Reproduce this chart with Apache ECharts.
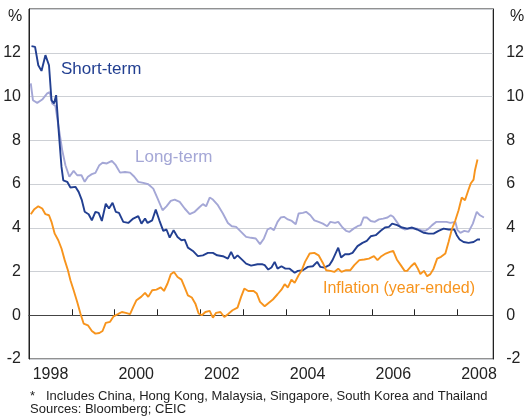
<!DOCTYPE html>
<html>
<head>
<meta charset="utf-8">
<script src="https://cdn.jsdelivr.net/npm/echarts@6/dist/echarts.min.js"></script>
<style>
html,body{margin:0;padding:0;background:#fff;}
#chart{width:527px;height:417px;}
</style>
</head>
<body>
<div id="chart"></div>
<script>
// Months counted from January 1998, and values in per cent
var startYear = 1998;
var shortTerm = [[0.7,12.3],[1.7,12.27],[2.6,11.43],[3.5,11.17],[4.6,11.89],[5.6,11.43],[6.3,9.83],[7.0,9.68],[7.6,10.06],[8.3,8.46],[9.1,6.78],[9.6,6.17],[10.7,6.1],[11.6,5.84],[13,5.87],[13.9,5.64],[14.8,5.26],[15.6,4.73],[16.7,4.62],[17.6,4.34],[18.6,4.73],[19.5,4.68],[20.4,4.31],[21.5,5.1],[22.4,4.88],[23.4,5.14],[24.3,4.73],[25.2,4.68],[26.4,4.27],[27.8,4.22],[29.2,4.42],[30.6,4.53],[31.5,4.19],[32.5,4.42],[33.2,4.22],[34.5,4.34],[35.5,4.83],[36.5,4.34],[37.6,3.86],[38.5,3.92],[39.4,3.55],[40.5,3.89],[41.6,3.58],[42.7,3.43],[43.6,3.46],[44.5,3.09],[45.9,2.94],[47.3,2.70],[48.7,2.74],[50.1,2.85],[51.5,2.85],[52.7,2.74],[54.3,2.70],[55.7,2.59],[56.6,2.90],[57.5,2.59],[58.4,2.74],[59.8,2.52],[60.8,2.36],[62.2,2.27],[64,2.33],[65.4,2.33],[66,2.29],[67,2.09],[67.9,2.18],[68.8,2.44],[69.6,2.13],[70.7,2.24],[71.8,2.13],[73,2.13],[74.4,1.94],[75.3,2.03],[76.7,2.06],[78.1,2.21],[79.5,2.24],[80.7,2.44],[81.6,2.21],[82.7,2.18],[84.1,2.29],[85,2.52],[86.6,3.09],[87.4,2.64],[88.5,2.79],[89.7,2.79],[90.6,2.85],[92,3.16],[93.4,3.31],[94.6,3.40],[95.7,3.61],[97.1,3.66],[98.5,3.86],[99.7,4.01],[100.8,4.04],[101.7,4.19],[103.1,4.12],[104.5,4.01],[105.9,3.96],[107.3,4.01],[108.7,3.92],[110.6,3.77],[111.9,3.73],[113.3,3.73],[114.7,3.86],[116.1,3.96],[117.5,3.92],[119.1,3.92],[119.8,3.66],[120.6,3.46],[121.7,3.35],[123.1,3.31],[124.5,3.35],[125.6,3.46],[126.3,3.46]];
var longTerm = [[0.5,10.6],[1.1,9.83],[2.3,9.71],[3.7,9.86],[5.1,10.14],[5.8,10.2],[6.5,9.68],[7.4,9.56],[8.3,8.6],[9.3,7.55],[10.2,6.86],[11.3,6.33],[12.5,6.6],[13.5,6.4],[14.7,6.4],[15.6,6.1],[16.5,6.33],[17.6,6.45],[18.6,6.51],[19.7,6.86],[20.6,6.97],[21.8,6.94],[23.2,7.06],[24.3,6.86],[25.5,6.52],[26.9,6.55],[28.3,6.52],[29.5,6.33],[30.6,6.10],[32,6.05],[33.4,5.99],[34.8,5.79],[36,5.34],[37.4,4.80],[38.5,4.98],[39.7,5.23],[40.8,5.29],[42.2,5.18],[43.6,4.88],[45,4.62],[46.4,4.73],[47.8,4.95],[48.7,5.08],[49.6,4.98],[50.6,5.38],[51.5,5.29],[52.9,5.03],[54.3,4.65],[55.7,4.22],[56.8,4.07],[58,4.04],[59.4,3.81],[60.8,3.58],[62.2,3.54],[63.5,3.51],[64.7,3.25],[65.8,3.51],[66.8,3.92],[67.7,3.99],[68.6,3.89],[69.6,4.27],[70.5,4.47],[71.4,4.50],[72.5,4.38],[73.6,4.31],[74.7,4.16],[75.5,4.65],[76.7,4.68],[77.6,4.73],[78.8,4.57],[79.9,4.34],[81.1,4.27],[82.3,4.19],[83.5,4.07],[84.4,4.27],[85.7,4.22],[86.6,4.27],[87.8,4.01],[88.8,3.86],[89.7,3.81],[90.9,3.96],[92,4.07],[92.9,4.12],[93.7,4.47],[94.6,4.47],[95.7,4.31],[96.8,4.27],[98,4.38],[99.2,4.42],[100.4,4.47],[101.3,4.57],[102,4.50],[103,4.27],[104.1,4.01],[105.2,3.92],[106.4,3.96],[107.6,3.96],[108.7,3.96],[109.8,3.89],[111,3.86],[111.9,3.96],[112.9,4.12],[114.1,4.27],[115.4,4.27],[116.9,4.27],[118,4.22],[119.4,4.27],[120,3.89],[120.8,3.77],[121.9,3.86],[123.1,3.81],[124.3,4.19],[125.4,4.73],[126.3,4.57],[127.4,4.47]];
var inflation = [[0.5,4.62],[1.4,4.83],[2.6,4.98],[3.7,4.88],[4.6,4.62],[5.6,4.57],[6.3,4.27],[7.2,3.73],[8.2,3.43],[9.1,3.05],[10,2.52],[10.9,2.06],[11.6,1.60],[12.5,1.14],[13.5,0.61],[14.4,0.08],[15.3,-0.38],[16.5,-0.46],[17.6,-0.72],[18.6,-0.84],[19.7,-0.81],[20.6,-0.72],[21.5,-0.35],[22.7,-0.30],[23.7,-0.05],[24.9,0.05],[26,0.15],[27.1,0.11],[28.3,0.05],[29.2,0.38],[30.1,0.69],[31.4,0.84],[32.5,1.02],[33.4,0.84],[34.5,1.14],[35.7,1.17],[36.9,1.27],[37.8,1.11],[38.8,1.45],[39.7,1.87],[40.6,1.98],[41.6,1.75],[42.7,1.63],[43.6,1.27],[44.5,0.91],[45.6,0.81],[46.6,0.53],[47.5,0.08],[48.4,0.0],[49.4,0.15],[50.6,0.2],[51.5,-0.11],[52.4,0.11],[53.6,0.15],[54.7,-0.08],[55.7,0.05],[57,0.23],[58.4,0.35],[59.4,0.84],[60.3,1.22],[61.4,1.11],[62.9,1.11],[63.8,0.99],[64.7,0.61],[66,0.41],[67.1,0.56],[68.3,0.72],[69.6,0.96],[70.7,1.17],[71.6,1.42],[72.5,1.27],[73.5,1.63],[74.4,1.48],[75.5,1.83],[76.4,2.06],[77.3,2.44],[78.6,2.82],[79.9,2.85],[81.1,2.74],[82.3,2.39],[83.2,2.06],[84.4,2.03],[85.5,1.98],[86.6,2.13],[87.5,1.98],[88.8,2.06],[90,2.06],[91.1,2.29],[92.5,2.52],[93.9,2.55],[95.2,2.59],[96.6,2.70],[97.6,2.52],[98.7,2.70],[99.9,2.82],[101.1,2.90],[102,2.94],[103,2.55],[104.1,2.29],[105.2,2.03],[105.9,2.03],[107,2.24],[108,2.39],[108.9,2.13],[109.6,1.88],[110.6,2.03],[111.5,1.78],[112.4,1.88],[113.3,2.13],[114.3,2.59],[115.4,2.67],[116.6,2.82],[117.5,3.35],[118.4,3.92],[119.4,4.34],[120.3,4.80],[121.2,5.38],[122.1,5.26],[123.1,5.75],[123.7,6.02],[124.5,6.20],[124.9,6.63],[125.6,7.12]];
var yearLabels = ['1998','2000','2002','2004','2006','2008'];
var yTicks = [-2, 0, 2, 4, 6, 8, 10, 12];
var xMin = 1998, xMax = 1998 + 130 / 12;
var yMin = -2, yMax = 14;

function toYears(arr) {
  return arr.map(function (p) { return [startYear + p[0] / 12, p[1]]; });
}

var FONT = 'Liberation Sans, Arial, sans-serif';
var TXT = '#222';
var chart = echarts.init(document.getElementById('chart'), null, {renderer: 'canvas'});

var yLabelFmt = function (v) { return yTicks.indexOf(v) >= 0 ? String(v) : ''; };

chart.setOption({
  animation: false,
  backgroundColor: '#fff',
  grid: {left: 29, right: 30, top: 9, bottom: 58, show: true, borderColor: '#222', borderWidth: 1, containLabel: false},
  xAxis: {
    type: 'value', min: xMin, max: xMax, interval: 1,
    axisLine: {show: true, lineStyle: {color: '#222', width: 1}},
    axisTick: {show: true, inside: true, length: 6, lineStyle: {color: '#222'}},
    splitLine: {show: false},
    axisLabel: {
      show: true, margin: 8, color: TXT, fontFamily: FONT, fontSize: 16,
      padding: [0, 0, 0, 43],
      formatter: function (v) {
        var y = Math.round(v);
        return yearLabels.indexOf(String(y)) >= 0 ? String(y) : '';
      },
      showMaxLabel: false
    }
  },
  yAxis: [{
    type: 'value', min: yMin, max: yMax, interval: 2, position: 'left',
    axisLine: {show: true, lineStyle: {color: '#222'}},
    axisTick: {show: false},
    splitLine: {show: true, lineStyle: {color: '#cdd0d5', width: 1.2}},
    axisLabel: {margin: 8, color: TXT, fontFamily: FONT, fontSize: 16, formatter: yLabelFmt}
  }, {
    type: 'value', min: yMin, max: yMax, interval: 2, position: 'right',
    axisLine: {show: true, lineStyle: {color: '#222'}},
    axisTick: {show: false},
    splitLine: {show: false},
    axisLabel: {margin: 13, color: TXT, fontFamily: FONT, fontSize: 16, formatter: yLabelFmt}
  }],
  series: [{
    name: 'Long-term', type: 'line', data: toYears(longTerm), showSymbol: false,
    lineStyle: {color: '#a4a7d6', width: 1.9}, z: 3,
    markLine: {
      silent: true, symbol: 'none', label: {show: false},
      lineStyle: {color: '#444', width: 1.2, type: 'solid'},
      data: [{yAxis: 0}]
    }
  }, {
    name: 'Short-term', type: 'line', data: toYears(shortTerm), showSymbol: false,
    lineStyle: {color: '#223f91', width: 1.9}, z: 4
  }, {
    name: 'Inflation', type: 'line', data: toYears(inflation), showSymbol: false,
    lineStyle: {color: '#f7941d', width: 1.9}, z: 5
  }],
  graphic: [
    {type: 'text', left: 8, top: 9, style: {text: '%', font: '16px ' + FONT, fill: TXT}},
    {type: 'text', left: 510, top: 9, style: {text: '%', font: '16px ' + FONT, fill: TXT}},
    {type: 'text', left: 61, top: 61, style: {text: 'Short-term', font: '17px ' + FONT, fill: '#223f91'}},
    {type: 'text', left: 135, top: 149, style: {text: 'Long-term', font: '17px ' + FONT, fill: '#a4a7d6'}},
    {type: 'text', left: 323, top: 281, style: {text: 'Inflation (year-ended)', font: '16px ' + FONT, fill: '#f7941d'}},
    {type: 'text', left: 30, top: 390, style: {text: '*', font: '13px ' + FONT, fill: TXT}},
    {type: 'text', left: 46, top: 390, style: {text: 'Includes China, Hong Kong, Malaysia, Singapore, South Korea and Thailand', font: '13px ' + FONT, fill: TXT}},
    {type: 'text', left: 30, top: 403, style: {text: 'Sources: Bloomberg; CEIC', font: '13px ' + FONT, fill: TXT}}
  ]
});
</script>
</body>
</html>
